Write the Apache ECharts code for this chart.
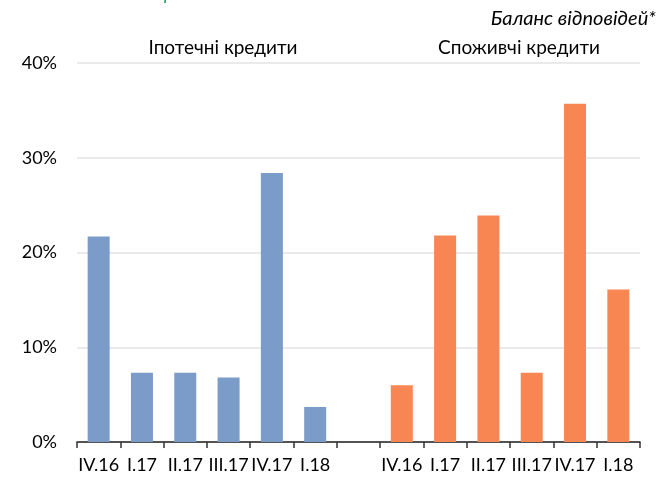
<!DOCTYPE html>
<html>
<head>
<meta charset="utf-8">
<script src="https://cdn.jsdelivr.net/npm/echarts@6/dist/echarts.min.js"></script>
<style>
  html, body { margin: 0; padding: 0; background: #fff; }
  #chart { width: 670px; height: 482px; }
</style>
</head>
<body>
<div id="chart"></div>
<script>
// категорії: 6 кварталів іпотеки, порожній проміжок, 6 кварталів споживчих
const categories = ['IV.16', 'I.17', 'II.17', 'III.17', 'IV.17', 'I.18', '',
  'IV.16', 'I.17', 'II.17', 'III.17', 'IV.17', 'I.18']

// іпотечні кредити (%)
const mortgage = [21.7, 7.3, 7.3, 6.8, 28.4, 3.7, '-', '-', '-', '-', '-', '-', '-']
// споживчі кредити (%)
const consumer = ['-', '-', '-', '-', '-', '-', '-', 6.0, 21.8, 23.9, 7.3, 35.7, 16.1]

const yTicks = { min: 0, max: 40, interval: 10 }

const font = 'Lato, "Open Sans", sans-serif'

const chart = echarts.init(document.getElementById('chart'))

chart.setOption({
  animation: false,
  textStyle: { fontFamily: font },
  grid: { left: 77, right: 30, top: 63, bottom: 40 },
  graphic: [
    {
      type: 'text', x: 164, y: -15,
      style: { text: 'р', fill: '#1a9a5a', fontSize: 18, fontStyle: 'italic', fontFamily: font }
    },
    {
      type: 'text', x: 656, y: 19,
      style: { text: 'Баланс відповідей*', fill: '#000', fontSize: 20, fontStyle: 'italic', fontFamily: font, align: 'right', verticalAlign: 'middle' }
    },
    {
      type: 'text', x: 223, y: 48,
      style: { text: 'Іпотечні кредити', fill: '#000', fontSize: 19, fontFamily: font, align: 'center', verticalAlign: 'middle' }
    },
    {
      type: 'text', x: 519, y: 48,
      style: { text: 'Споживчі кредити', fill: '#000', fontSize: 19, fontFamily: font, align: 'center', verticalAlign: 'middle' }
    }
  ],
  xAxis: {
    type: 'category',
    data: categories,
    axisLine: { lineStyle: { color: '#222', width: 1.5 } },
    axisTick: { show: true, length: 6, lineStyle: { color: '#333', width: 1.5 } },
    axisLabel: { color: '#000', fontSize: 18, margin: 14, interval: 0 }
  },
  yAxis: {
    type: 'value',
    min: yTicks.min,
    max: yTicks.max,
    interval: yTicks.interval,
    axisLine: { show: false },
    axisTick: { show: false },
    axisLabel: { color: '#000', fontSize: 18, margin: 20, formatter: '{value}%' },
    splitLine: { lineStyle: { color: '#e3e3e3', width: 1.5 } }
  },
  series: [
    {
      name: 'Іпотечні кредити',
      type: 'bar',
      data: mortgage,
      barWidth: 22,
      barGap: '-100%',
      itemStyle: { color: '#7b9bc8' }
    },
    {
      name: 'Споживчі кредити',
      type: 'bar',
      data: consumer,
      barWidth: 22,
      itemStyle: { color: '#f88653' }
    }
  ]
})

window.addEventListener('resize', () => chart.resize())
</script>
</body>
</html>
